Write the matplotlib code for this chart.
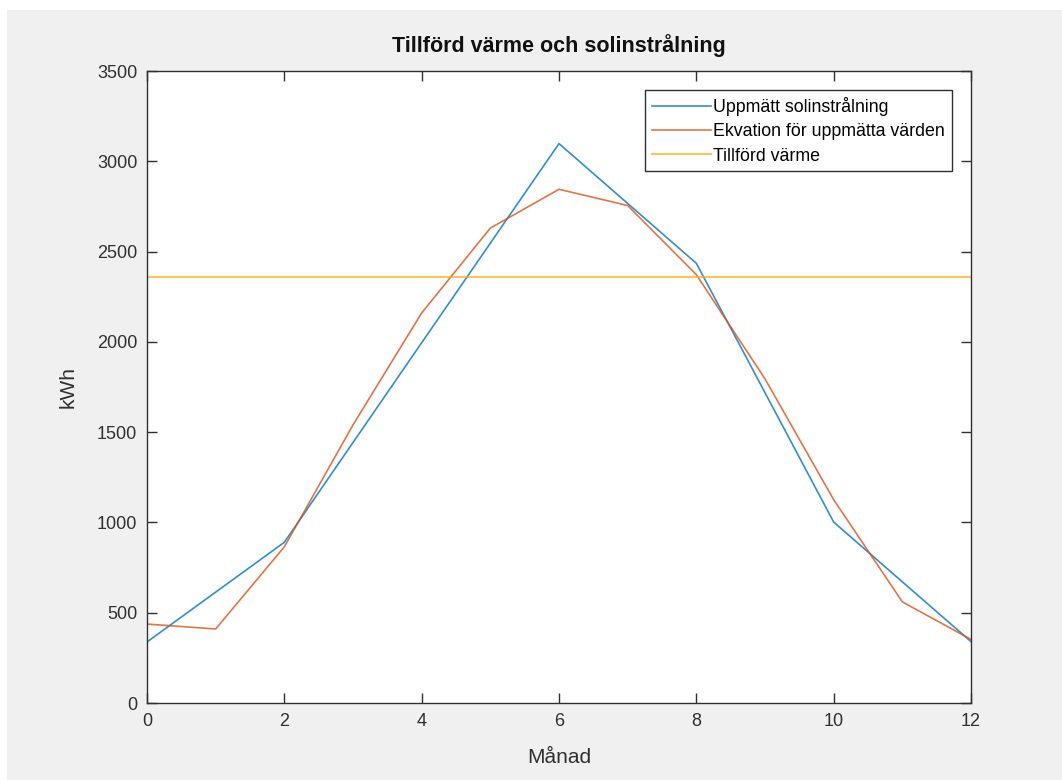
import matplotlib
matplotlib.use("Agg")
import matplotlib.pyplot as plt
from matplotlib.patches import Rectangle

# Data
months_measured = [0, 2, 4, 6, 8, 10, 12]
measured_kwh = [338, 890, 1995, 3098, 2435, 1002, 340]
months_eq = [0, 1, 2, 3, 4, 5, 6, 7, 8, 9, 10, 11, 12]
equation_kwh = [437, 410, 865, 1540, 2160, 2630, 2845, 2755, 2372, 1795, 1126, 560, 352]
supplied_heat = 2357

title = "Tillförd värme och solinstrålning"
xlabel = "Månad"
ylabel = "kWh"
labels = ["Uppmätt solinstrålning", "Ekvation för uppmätta värden", "Tillförd värme"]

plt.rcParams['font.family'] = ['Liberation Sans', 'DejaVu Sans']
W, H = 1062, 780
fig = plt.figure(figsize=(W / 100, H / 100), dpi=100, facecolor='white')
fig.patches.append(Rectangle((7 / W, 0), 1 - 7 / W, 1 - 10 / H, transform=fig.transFigure,
                             facecolor='#f0f0f0', edgecolor='none', zorder=-10))

ax = fig.add_axes([147 / W, (H - 703) / H, 824 / W, 632 / H])
ax.set_facecolor('white')

ax.plot(months_measured, measured_kwh, color='#0072BD', lw=1.2, alpha=0.8, label=labels[0])
ax.plot(months_eq, equation_kwh, color='#D95319', lw=1.2, alpha=0.8, label=labels[1])
ax.axhline(supplied_heat, color='#EDB120', lw=1.6, alpha=0.7, label=labels[2])

ax.set_xlim(0, 12)
ax.set_ylim(0, 3500)
ax.set_xticks(range(0, 13, 2))
ax.set_yticks(range(0, 3501, 500))

tc = '#303030'
for s in ax.spines.values():
    s.set_color(tc)
    s.set_linewidth(1.0)
ax.tick_params(direction='in', length=7, width=1.0, colors=tc, labelsize=13,
               top=True, right=True, pad=7)

ax.set_title(title, fontsize=15.5, fontweight='bold', color='#111111', pad=14)
ax.set_xlabel(xlabel, fontsize=15, color=tc, labelpad=13)
ax.set_ylabel(ylabel, fontsize=15, color=tc, labelpad=14)

leg = ax.legend(loc='upper right', bbox_to_anchor=(952 / W, (H - 90) / H),
                bbox_transform=fig.transFigure, fontsize=12.8, frameon=True,
                fancybox=False, framealpha=1, edgecolor=tc, borderpad=0.38,
                handlelength=3.3, handletextpad=0.15, labelspacing=0.42, borderaxespad=0)
leg.get_frame().set_linewidth(1.0)

fig.savefig("out.png", dpi=100, facecolor=fig.get_facecolor())
